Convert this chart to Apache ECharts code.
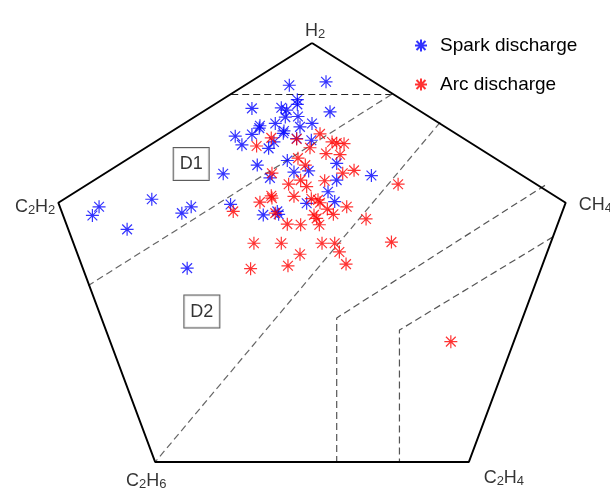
<!DOCTYPE html>
<html>
<head>
<meta charset="utf-8">
<script src="https://cdn.jsdelivr.net/npm/echarts@6/dist/echarts.min.js"></script>
<style>
html, body { margin: 0; padding: 0; background: #fff; }
#chart { width: 610px; height: 500px; }
</style>
</head>
<body>
<div id="chart"></div>
<script>
// pentagon coordinates, vertices on a radius of 40
var vertexNames = ['H2', 'CH4', 'C2H4', 'C2H6', 'C2H2']
var vertexX = [0, 38, 23.5, -23.5, -38]
var vertexY = [40, 12.4, -32.4, -32.4, 12.4]

// zone boundaries
var zoneLineA = [[-12.1, 31.1], [12.1, 31.1]]
var zoneLineB = [[11.9, 31.1], [-33.5, -1.9]]
var zoneLineC = [[19.2, 26.3], [-23.5, -32.4]]
var zoneLineD = [[34.9, 15.4], [3.7, -7.5], [3.7, -32.4]]
var zoneLineE = [[36.1, 6.5], [13.1, -9.6], [13.1, -32.4]]

var zoneNames = ['D1', 'D2']
var zoneX = [-18.1, -16.5]
var zoneY = [19.1, -6.4]

var sparkData = [
  [-3.4, 32.7], [2.1, 33.3], [-2.2, 30.2], [-2.2, 29.4], [-9.0, 28.7], [-4.6, 28.8], [-3.8, 28.4], [2.7, 28.1],
  [-4.0, 27.2], [-2.1, 27.3], [-5.5, 26.1], [-7.8, 25.7], [-7.9, 25.3], [0.0, 26.1], [-1.8, 25.5], [-11.5, 23.9],
  [-9.0, 24.2], [-4.3, 24.4], [-4.2, 24.8], [-10.5, 22.4], [-6.5, 21.8], [-5.7, 22.9], [-2.3, 23.5], [-0.1, 23.2],
  [-13.3, 17.4], [-8.2, 18.9], [-3.7, 19.7], [3.7, 19.2], [-6.3, 16.7], [-2.7, 17.7], [-0.5, 17.9], [3.7, 16.3],
  [8.9, 17.1], [2.4, 14.3], [3.4, 12.6], [-0.8, 12.3], [-12.2, 12.1], [-7.3, 10.3], [-5.2, 10.9], [-5.0, 10.4],
  [-31.9, 11.7], [-32.9, 10.2], [-24.0, 13.0], [-27.7, 7.8], [-18.1, 11.7], [-19.5, 10.6], [-18.7, 1.1]
]

var arcData = [
  [1.2, 24.3], [-6.1, 23.6], [-8.3, 22.2], [-2.3, 23.4], [3.0, 22.9], [3.7, 22.7], [4.8, 22.6], [-0.3, 21.9],
  [2.1, 20.9], [4.2, 20.7], [-2.1, 20.1], [-1.0, 18.9], [6.3, 18.0], [4.6, 17.5], [-6.0, 17.5], [1.9, 16.2],
  [-1.7, 16.3], [-3.5, 15.6], [-0.8, 15.2], [12.9, 15.6], [-6.1, 13.6], [-6.0, 13.2], [-2.7, 13.5], [-7.8, 12.5],
  [-0.1, 13.1], [0.9, 12.9], [1.2, 12.4], [5.2, 11.7], [2.3, 11.3], [3.2, 10.4], [-11.8, 10.9], [0.3, 10.3],
  [0.7, 9.7], [8.1, 9.6], [-3.7, 8.7], [-1.7, 8.6], [1.1, 8.6], [-8.7, 5.4], [-4.6, 5.4], [1.5, 5.4],
  [3.4, 5.4], [11.9, 5.6], [4.1, 3.9], [-1.8, 3.5], [-9.2, 1.0], [-3.6, 1.5], [5.1, 1.8], [20.8, -11.6],
  [-5.5, 10.6]
]

var font = 'Arial, "Liberation Sans", sans-serif'
var star = 'path://M0,-10L0,10M-10,0L10,0M-7.5,-7.5L7.5,7.5M-7.5,7.5L7.5,-7.5'

function chemLabel (name) {
  return name.replace(/([A-Z]+)/g, '{m|$1}').replace(/(\d)/g, '{s|$1}')
}

var vertexLabel = {
  H2: { position: 'top', distance: 2, offset: [3, 0] },
  CH4: { position: 'right', distance: 13, offset: [0, 2] },
  C2H4: { position: 'bottom', distance: 6, offset: [35, 0] },
  C2H6: { position: 'bottom', distance: 9, offset: [-9, 0] },
  C2H2: { position: 'left', distance: 3, offset: [0, 4] }
}

var outline = []
var vertexPoints = []
for (var i = 0; i < vertexNames.length; i++) {
  outline.push([vertexX[i], vertexY[i]])
  vertexPoints.push({
    name: vertexNames[i],
    value: [vertexX[i], vertexY[i]],
    label: vertexLabel[vertexNames[i]]
  })
}
outline.push([vertexX[0], vertexY[0]])

var zonePoints = []
for (var j = 0; j < zoneNames.length; j++) {
  zonePoints.push({ name: zoneNames[j], value: [zoneX[j], zoneY[j]] })
}

function dashed (data, color) {
  return {
    type: 'line',
    data: data,
    symbol: 'none',
    silent: true,
    z: 1,
    lineStyle: { color: color, width: 1.2, type: [7, 4] }
  }
}

var option = {
  animation: false,
  backgroundColor: '#fff',
  grid: { left: 0, right: 0, top: 0, bottom: 0 },
  xAxis: { type: 'value', min: -46.742, max: 44.644, show: false },
  yAxis: { type: 'value', min: -38.963, max: 47.43, show: false },
  legend: {
    orient: 'vertical',
    left: 409,
    top: 31,
    itemWidth: 12,
    itemHeight: 12,
    itemGap: 20,
    data: [
      { name: 'Spark discharge', icon: star },
      { name: 'Arc discharge', icon: star }
    ],
    textStyle: { fontSize: 19, color: '#000', fontFamily: font, padding: [0, 0, 0, 8] }
  },
  series: [
    {
      type: 'line',
      data: outline,
      symbol: 'none',
      silent: true,
      z: 2,
      lineStyle: { color: '#000', width: 2 }
    },
    dashed(zoneLineA, '#222'),
    dashed(zoneLineB, '#666'),
    dashed(zoneLineC, '#666'),
    dashed(zoneLineD, '#555'),
    dashed(zoneLineE, '#555'),
    {
      type: 'scatter',
      data: vertexPoints,
      symbolSize: 0,
      silent: true,
      label: {
        show: true,
        color: '#000',
        formatter: function (p) { return chemLabel(p.name) },
        rich: {
          m: { fontSize: 18, fontFamily: font, color: '#000' },
          s: { fontSize: 13, fontFamily: font, color: '#000', padding: [7, 0, 0, 0] }
        }
      }
    },
    {
      type: 'scatter',
      data: zonePoints,
      symbolSize: 0,
      silent: true,
      label: {
        show: true,
        position: 'inside',
        formatter: '{b}',
        fontSize: 18,
        fontFamily: font,
        color: '#000',
        backgroundColor: '#fff',
        borderColor: '#333',
        borderWidth: 1,
        padding: [7, 6, 7, 6]
      }
    },
    {
      name: 'Spark discharge',
      type: 'scatter',
      data: sparkData,
      symbol: star,
      symbolSize: 13,
      z: 3,
      itemStyle: { color: '#0000ff', borderColor: '#0000ff', borderWidth: 1.2 }
    },
    {
      name: 'Arc discharge',
      type: 'scatter',
      data: arcData,
      symbol: star,
      symbolSize: 13,
      z: 4,
      itemStyle: { color: '#ff0000', borderColor: '#ff0000', borderWidth: 1.2 }
    }
  ]
}

var chart = echarts.init(document.getElementById('chart'))
chart.setOption(option)
</script>
</body>
</html>
